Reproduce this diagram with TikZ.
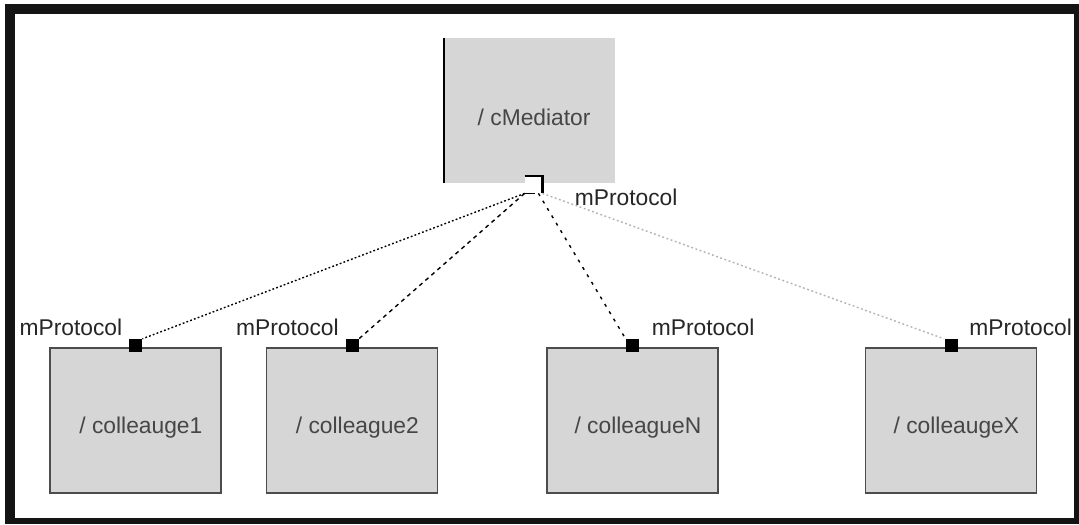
\documentclass[tikz,border=0pt]{standalone}
\usepackage{fontspec}
\setmainfont{Liberation Sans}
\usetikzlibrary{positioning}
\definecolor{boxgray}{RGB}{214,214,214}
\definecolor{namegray}{RGB}{70,70,70}

\begin{document}
\begin{tikzpicture}[x=0.5pt,y=-0.5pt,
	part/.style={
		draw=black!70, line width=0.7pt, fill=boxgray,
		minimum width=85.5pt, minimum height=72.5pt, inner sep=0pt
	},
	partname/.style={text=namegray, font=\fontsize{11.4}{13}\selectfont},
	port/.style={fill=black, minimum size=6.5pt, inner sep=0pt},
	portname/.style={text=black!85, font=\fontsize{11.4}{13}\selectfont, inner sep=0pt},
	link/.style={line width=0.7pt}
	]
	\useasboundingbox (0,0) rectangle (1079,524);
	
	%==================== frame ====================
	\fill[black!92] (5,4) rectangle (1079,524);
	\fill[white] (15,14) rectangle (1074,518);
	
	%==================== mediator ====================
	\node[fill=boxgray, minimum width=85.5pt, minimum height=72.5pt, inner sep=0pt] (med) at (529.5,110.5) {};
	\draw[line width=1pt] (med.north west) -- (med.south west);
	\node[partname] (medname) at ([xshift=2.3pt,yshift=-3.3pt]med.center) {/ cMediator};
	
	\node[fill=white, minimum size=8.5pt, inner sep=0pt] (mport) at (533.5,184.5) {};
	\draw[line width=1.1pt] (mport.north west) -- (mport.north east) -- (mport.south east);
	\draw[line width=0.8pt] (mport.south west) -- ([xshift=5pt]mport.south west);
	\node[portname, anchor=base west] (mportname) at ([xshift=16pt,yshift=-6pt]mport.south east) {mProtocol};
	
	%==================== colleagues ====================
	\node[part] (col1) at (135.5,420.5) {};
	\node[part] (col2) at (352,420.5) {};
	\node[part] (colN) at (632.5,420.5) {};
	\node[part] (colX) at (951,420.5) {};
	
	\node[partname] at ([xshift=2.7pt,yshift=-3.7pt]col1.center) {/ colleauge1};
	\node[partname] at ([xshift=2.7pt,yshift=-3.7pt]col2.center) {/ colleague2};
	\node[partname] at ([xshift=2.7pt,yshift=-3.7pt]colN.center) {/ colleagueN};
	\node[partname] at ([xshift=2.7pt,yshift=-3.7pt]colX.center) {/ colleaugeX};
	
	%==================== ports ====================
	\node[port] (p1) at ([yshift=0.8pt]col1.north) {};
	\node[port] (p2) at ([yshift=0.8pt]col2.north) {};
	\node[port] (pN) at ([yshift=0.8pt]colN.north) {};
	\node[port] (pX) at ([yshift=0.8pt]colX.north) {};
	
	\node[portname, anchor=base east] (p1name) at ([xshift=-3pt,yshift=1.5pt]p1.north west) {mProtocol};
	\node[portname, anchor=base east] (p2name) at ([xshift=-3pt,yshift=1.5pt]p2.north west) {mProtocol};
	\node[portname, anchor=base west] (pNname) at ([xshift=6pt,yshift=1.5pt]pN.north east) {mProtocol};
	\node[portname, anchor=base west] (pXname) at ([xshift=5.5pt,yshift=1.5pt]pX.north east) {mProtocol};
	
	%==================== links ====================
	\draw[link, dash pattern=on 0.9pt off 1.1pt] (mport.south west) -- (p1.north east);
	\draw[link, dash pattern=on 2pt off 2pt] (mport.south west) -- (p2.north east);
	\draw[link, dash pattern=on 1.5pt off 2.8pt] ([xshift=-2pt]mport.south east) -- (pN.north west);
	\draw[link, black!30, dash pattern=on 0.9pt off 1.3pt] (mport.south east) -- (pX.north west);
	
\end{tikzpicture}
\end{document}
